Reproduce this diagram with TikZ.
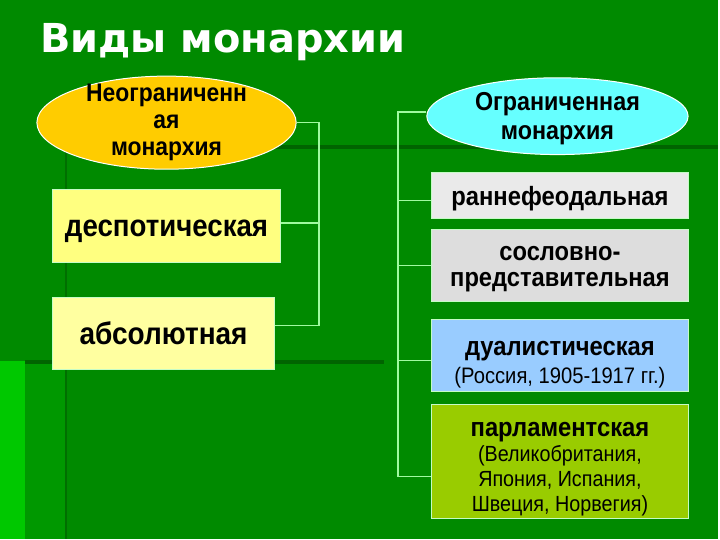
\documentclass[tikz,border=0pt]{standalone}
\usepackage{fontspec}
\setmainfont{Liberation Sans}[FakeStretch=0.9]
\newfontfamily\titlefont{DejaVu Sans}
\usetikzlibrary{shapes.geometric}

\definecolor{bggreen}{RGB}{0,138,0}
\definecolor{stripgreen}{RGB}{0,200,0}
\definecolor{midgreen}{RGB}{0,152,0}
\definecolor{darkgreen}{RGB}{0,100,0}
\definecolor{linkgreen}{RGB}{160,250,160}
\definecolor{unlimfill}{RGB}{255,204,0}
\definecolor{limfill}{RGB}{102,255,255}
\definecolor{despfill}{RGB}{255,255,128}
\definecolor{absfill}{RGB}{255,255,160}
\definecolor{rannefill}{RGB}{234,234,234}
\definecolor{sosfill}{RGB}{221,221,221}
\definecolor{dualfill}{RGB}{153,204,255}
\definecolor{parlfill}{RGB}{153,204,0}

\tikzset{
  kind/.style={ellipse, draw=white, line width=1pt, inner sep=0pt,
    align=center, font=\bfseries\fontsize{25.5}{27}\selectfont},
  form/.style={rectangle, draw=linkgreen!60!white, line width=1pt,
    inner sep=0pt, align=center},
  link/.style={draw=linkgreen, line width=1.5pt},
}

\begin{document}
\begin{tikzpicture}[x=1pt,y=-1pt]
  % background
  \fill[bggreen] (0,0) rectangle (720,540);
  \fill[stripgreen] (0,362) rectangle (25,540);
  \fill[midgreen] (25,362) rectangle (66,540);
  \draw[darkgreen, line width=4pt] (66,147) -- (720,147);
  \draw[darkgreen!70!bggreen, line width=2pt] (66,149) -- (66,540);
  \draw[darkgreen, line width=4pt] (25,363) -- (385,363);

  \node [anchor=base west, inner sep=0pt, text=white, font=\titlefont\bfseries\fontsize{40}{42}\selectfont]
    (title) at (40,53) {Виды монархии};

  \node [kind, fill=unlimfill, minimum width=260pt, minimum height=90pt,
    text height=66pt, text depth=-10pt]
    (unlim) at (167,123) {Неограниченн\\ая\\монархия};
  \node [kind, fill=limfill, minimum width=262pt, minimum height=77pt,
    text height=47pt, text depth=0pt, font=\bfseries\fontsize{26}{29}\selectfont]
    (lim) at (559,116.5) {Ограниченная\\монархия};

  \node [form, fill=despfill, minimum width=228pt, minimum height=73pt,
    text height=22pt, text depth=0pt, font=\bfseries\fontsize{30.8}{32}\selectfont]
    (desp) at (167,226.5) {деспотическая};
  \node [form, fill=absfill, minimum width=222pt, minimum height=73pt,
    text height=22pt, text depth=0pt, font=\bfseries\fontsize{31.2}{32}\selectfont]
    (abs) at (164,334.5) {абсолютная};

  \node [form, fill=rannefill, minimum width=257pt, minimum height=46pt,
    text height=20pt, text depth=0pt, font=\bfseries\fontsize{26.5}{27}\selectfont]
    (ranne) at (561.5,196) {раннефеодальная};
  \node [form, fill=sosfill, minimum width=257pt, minimum height=72pt,
    font=\bfseries\fontsize{26.4}{27}\selectfont]
    (sosl) at (561.5,266) {\rule{0pt}{22pt}сословно-\\представительная};
  \node [form, fill=dualfill, minimum width=257pt, minimum height=73pt,
    font=\fontsize{22.5}{28}\selectfont]
    (dual) at (561.5,356.5) {\rule{0pt}{32pt}\textbf{\fontsize{26.5}{27}\selectfont дуалистическая}\\(Россия, 1905-1917 гг.)};
  \node [form, fill=parlfill, minimum width=257pt, minimum height=114pt,
    font=\fontsize{22}{25}\selectfont]
    (parl) at (561.5,462.5) {\rule{0pt}{30pt}\textbf{\fontsize{26.5}{25}\selectfont парламентская}\\(Великобритания,\\Япония, Испания,\\Швеция, Норвегия)};

  % brackets
  \coordinate (lbus) at (320,0);
  \coordinate (rbus) at (399,0);
  \draw[link] (unlim.east) -- (unlim.east -| lbus) -- ([yshift=8pt]abs.east -| lbus) -- ([yshift=8pt]abs.east);
  \draw[link] ([yshift=3pt]desp.east) -- ([yshift=3pt]desp.east -| lbus);
  \draw[link] ([yshift=4pt]lim.west) -- ([yshift=4pt]lim.west -| rbus) -- ([yshift=-15.5pt]parl.west -| rbus) -- ([yshift=-15.5pt]parl.west);
  \draw[link] ([yshift=-5pt]ranne.west) -- ([yshift=-5pt]ranne.west -| rbus);
  \draw[link] (sosl.west) -- (sosl.west -| rbus);
  \draw[link] ([yshift=-5pt]dual.west) -- ([yshift=-5pt]dual.west -| rbus);
\end{tikzpicture}
\end{document}
